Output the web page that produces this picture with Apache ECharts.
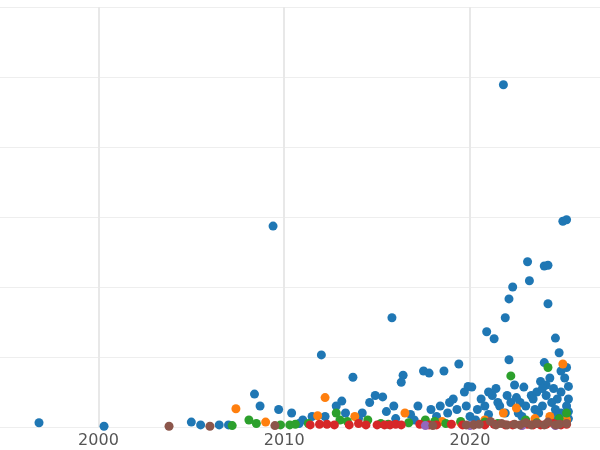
<!DOCTYPE html>
<html><head><meta charset="utf-8">
<script src="https://cdn.jsdelivr.net/npm/echarts@6/dist/echarts.min.js"></script>
<style>html,body{margin:0;padding:0;background:#fff}#c{width:600px;height:450px}</style>
</head><body><div id="c"></div>
<script>
const xTicks=[2000,2010,2020];
const blue=[[1996.8,0.06],[2000.3,0.01],[2005,0.07],[2005.5,0.03],[2006.5,0.03],[2007,0.03],[2008.4,0.47],[2008.7,0.3],[2009.4,2.87],[2009.7,0.25],[2010.4,0.2],[2011.5,0.15],[2012,1.03],[2012.2,0.15],[2012.8,0.3],[2013.1,0.37],[2013.7,0.71],[2014.2,0.2],[2014.6,0.35],[2014.9,0.45],[2015.3,0.43],[2015.8,1.56],[2015.5,0.22],[2015.9,0.3],[2016.4,0.74],[2016.3,0.64],[2016.8,0.18],[2017.2,0.3],[2017.5,0.8],[2017.8,0.77],[2017.9,0.25],[2018.4,0.3],[2018.6,0.8],[2018.9,0.35],[2019.1,0.4],[2019.4,0.9],[2019.7,0.5],[2019.9,0.58],[2020.1,0.57],[2019.8,0.3],[2020.4,0.25],[2020.9,1.36],[2021.3,1.26],[2021.2,0.45],[2021.5,0.35],[2021.8,4.89],[2021.9,1.56],[2022.1,1.83],[2022.3,2.0],[2022.1,0.96],[2022.0,0.45],[2022.4,0.6],[2022.7,0.35],[2022.9,0.57],[2023.1,2.36],[2023.2,2.09],[2023.3,0.45],[2023.6,0.5],[2023.8,0.65],[2024.0,2.3],[2024.0,0.92],[2024.2,2.31],[2024.2,1.76],[2024.3,0.7],[2024.5,0.55],[2024.6,1.27],[2024.8,1.06],[2024.9,0.8],[2025.0,2.94],[2025.2,2.96],[2025.1,0.7],[2025.3,0.58],[2025.3,0.4],[2025.2,0.3],[2024.7,0.4],[2023.9,0.3],[2023.5,0.25],[2022.6,0.2],[2021.0,0.18],[2020.6,0.4],[2024.1,0.45],[2024.9,0.2],[2025.3,0.12],
[2018.2,0.15],[2018.8,0.2],[2019.3,0.25],[2020.0,0.15],[2020.3,0.1],[2020.8,0.3],[2021.0,0.5],[2021.6,0.3],[2021.9,0.2],[2022.2,0.35],[2022.8,0.15],[2023.0,0.3],[2023.4,0.4],[2023.7,0.2],[2024.1,0.6],[2024.4,0.35],[2024.6,0.25],[2024.9,0.5],[2025.2,0.85],[2025.3,0.22],[2021.4,0.55],[2022.5,0.42],[2023.9,0.55],[2024.5,0.15],[2016.0,0.12],[2017.0,0.1],[2014.0,0.12],[2013.3,0.2],[2011.0,0.1],[2010.8,0.05]];
const orange=[[2007.4,0.26],[2009,0.07],[2011.8,0.16],[2012.2,0.42],[2013.8,0.15],[2016.5,0.2],[2019.5,0.06],[2021.8,0.2],[2022.5,0.27],[2023.5,0.12],[2024.3,0.15],[2025,0.9],[2025.2,0.1],[2020.8,0.1],[2023.0,0.08],[2018.5,0.08]];
const green=[[2007.2,0.02],[2008.1,0.1],[2008.5,0.05],[2009.8,0.03],[2010.3,0.03],[2010.6,0.04],[2011.3,0.05],[2012.8,0.2],[2013.0,0.1],[2013.4,0.08],[2014.5,0.1],[2015.2,0.05],[2015.6,0.04],[2016.7,0.06],[2017.6,0.1],[2018.1,0.08],[2018.7,0.05],[2019.5,0.08],[2020.8,0.07],[2021.5,0.05],[2022.2,0.73],[2023.0,0.1],[2023.6,0.06],[2024.2,0.85],[2024.8,0.12],[2025.2,0.2]];
const red=[[2011.4,0.03],[2011.9,0.04],[2012.3,0.04],[2012.7,0.03],[2013.5,0.03],[2014.0,0.05],[2014.4,0.03],[2015.0,0.03],[2015.4,0.03],[2015.7,0.03],[2016.0,0.04],[2016.3,0.03],[2017.3,0.04],[2017.8,0.03],[2018.2,0.03],[2019.0,0.04],[2019.6,0.03],[2020.2,0.03],[2020.8,0.03],[2021.3,0.04],[2021.9,0.03],[2022.3,0.03],[2022.8,0.03],[2023.1,0.04],[2023.4,0.03],[2023.8,0.03],[2024.1,0.04],[2024.5,0.05],[2024.9,0.03],[2025.2,0.04]];
const brown=[[2003.8,0.01],[2006,0.01],[2009.5,0.02],[2018.0,0.02],[2019.8,0.03],[2020.2,0.03],[2020.5,0.04],[2021.1,0.08],[2021.4,0.03],[2021.7,0.05],[2022.0,0.03],[2022.4,0.04],[2022.7,0.03],[2023.0,0.06],[2023.3,0.03],[2023.6,0.05],[2024.0,0.03],[2024.2,0.07],[2024.6,0.03],[2024.8,0.04],[2025.2,0.05]];
const purple=[[2017.6,0.02],[2020.0,0.02],[2022.8,0.02],[2024.6,0.02]];
const ch=echarts.init(document.getElementById('c'));
const mk=(d,c)=>({type:'scatter',data:d,symbolSize:9,itemStyle:{color:c,opacity:1}});
ch.setOption({animation:false,
grid:{left:0,right:0,top:7,bottom:23,containLabel:false},
xAxis:{type:'value',min:1994.7,max:2027,
 axisLine:{show:false},axisTick:{show:false,customValues:xTicks},
 axisLabel:{customValues:xTicks,formatter:v=>String(v),color:'#555',fontSize:16,fontFamily:'DejaVu Sans',margin:6},
 splitLine:{show:true,lineStyle:{color:'#e8e8e8',width:2}}},
yAxis:{type:'value',min:0,max:6,interval:1,axisLabel:{show:false},axisLine:{show:false},axisTick:{show:false},
 splitLine:{lineStyle:{color:'#eeeeee',width:1}}},
series:[mk(blue,'#1f77b4'),mk(orange,'#ff7f0e'),mk(green,'#2ca02c'),mk(red,'#d62728'),mk(purple,'#9467bd'),mk(brown,'#8c564b')]});
</script></body></html>
